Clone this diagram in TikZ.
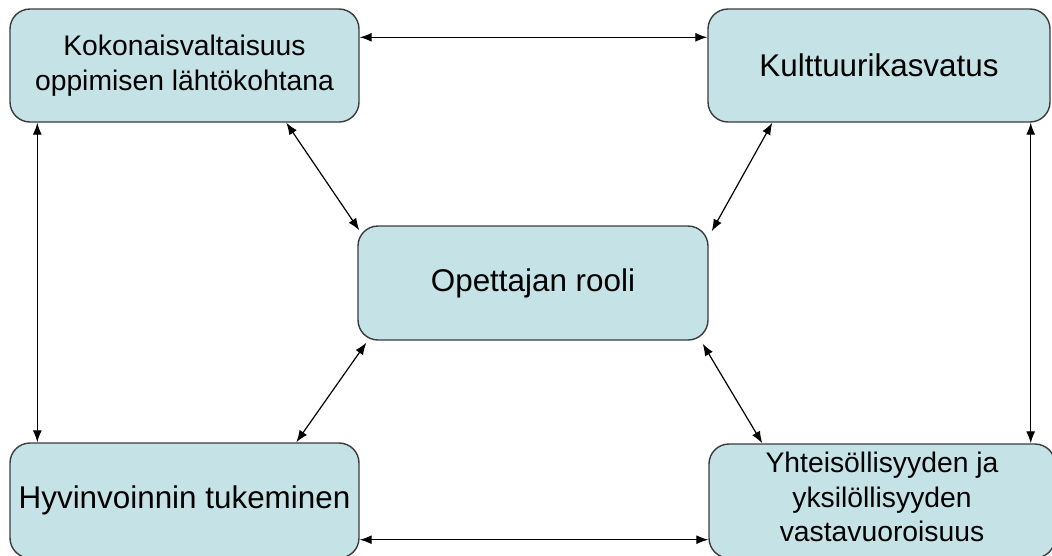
\documentclass[tikz,border=0pt]{standalone}
\usepackage{fontspec}
\setmainfont{Liberation Sans}
\usetikzlibrary{arrows.meta}
\definecolor{boxfill}{RGB}{197,226,230}
\definecolor{boxline}{RGB}{60,60,60}
\tikzset{
  box/.style={draw=boxline, line width=1.4pt, fill=boxfill, rounded corners=20pt,
    inner sep=0pt, align=center, anchor=center},
  big/.style={font=\fontsize{31.4}{36}\selectfont},
  small/.style={font=\fontsize{28.3}{34.5}\selectfont},
  arr/.style={line width=1.2pt, {Latex[length=12pt,width=9pt]}-{Latex[length=12pt,width=9pt]}}
}
\begin{document}
\begin{tikzpicture}[x=1pt,y=-1pt]
\useasboundingbox (0,0) rectangle (1052,555);
\clip (0,0) rectangle (1052,555);
\fill[white] (0,0) rectangle (1052,555);
\node[box, small, minimum width=349pt, minimum height=113pt] (tl) at (184.5,65.5)
  {Kokonaisvaltaisuus\\oppimisen lähtökohtana};
\node[box, big, minimum width=342pt, minimum height=113pt] (tr) at (879,65.5)
  {Kulttuurikasvatus};
\node[box, big, minimum width=350pt, minimum height=114pt] (c) at (533,283)
  {Opettajan rooli};
\node[box, big, minimum width=349pt, minimum height=115pt] (bl) at (184.5,500.5)
  {Hyvinvoinnin tukeminen};
\node[box, minimum width=346pt, minimum height=114pt] (br) at (882,501) {};
\node[small, align=center, inner sep=0pt] (brtext) at (882,497) {Yhteisöllisyyden ja\\yksilöllisyyden\\vastavuoroisuus};
\draw[arr] ([yshift=-29pt]tl.north east) -- ([yshift=-29pt]tr.north west);
\draw[arr] ([yshift=19pt]bl.south east) -- ([yshift=19pt]br.south west);
\draw[arr] ([xshift=28pt]tl.south west) -- ([xshift=28pt]bl.north west);
\draw[arr] ([xshift=-20pt]tr.south east) -- ([xshift=-20pt]tr.south east |- br.north);
\draw[arr] ([xshift=277pt]tl.south west) -- ([xshift=2pt,yshift=-5pt]c.north west);
\draw[arr] ([xshift=65pt]tr.south west) -- ([xshift=3pt,yshift=-6pt]c.north east);
\draw[arr] ([xshift=9pt,yshift=-2pt]c.south west) -- ([xshift=287pt]bl.north west);
\draw[arr] ([xshift=-6pt,yshift=-3pt]c.south east) -- ([xshift=54pt]br.north west);
\end{tikzpicture}
\end{document}
